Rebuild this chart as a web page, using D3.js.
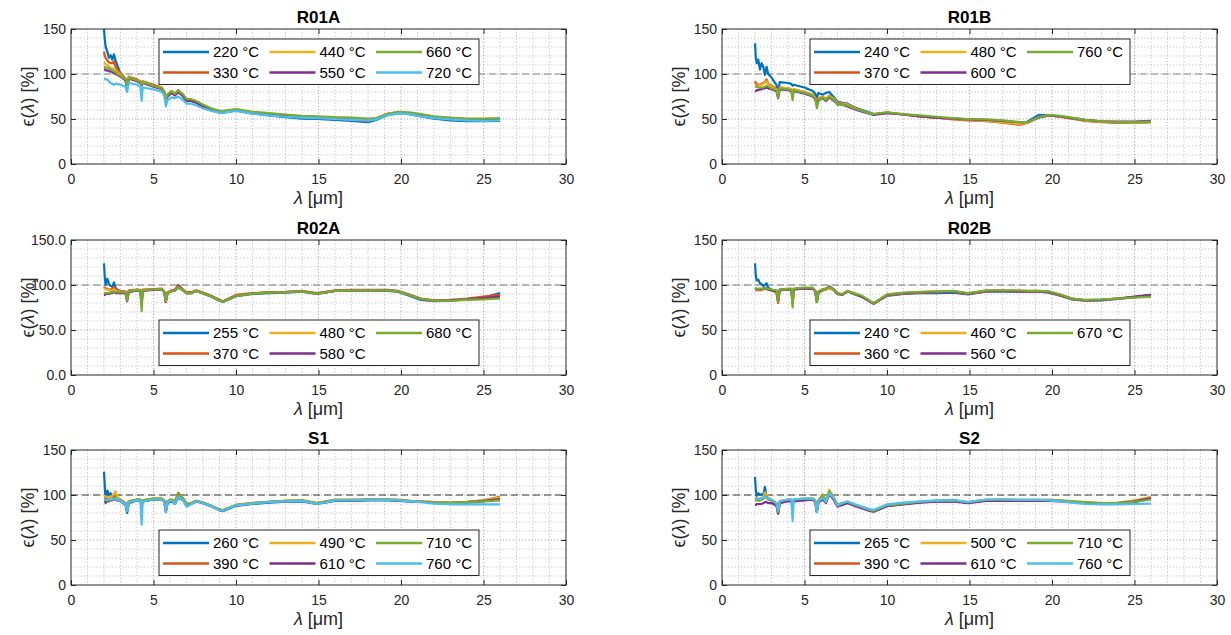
<!DOCTYPE html>
<html lang="en">
<head>
<meta charset="utf-8">
<title>Emissivity spectra</title>
<script src="https://cdn.jsdelivr.net/npm/d3@7"></script>
<style>
body { margin: 0; background: #fff; font-family: "Liberation Sans", Arial, Helvetica, sans-serif; }
svg text { fill: #262626; }
.tick text { font-size: 14px; font-family: "Liberation Sans", Arial, sans-serif; }
.tick line { stroke: #262626; }
.title { font-size: 17px; font-weight: bold; fill: #000; text-anchor: middle; }
.axlabel { font-size: 18px; text-anchor: middle; }
.legend text { font-size: 15px; fill: #000; }
.series { fill: none; stroke-width: 2.2; stroke-linejoin: round; }
</style>
</head>
<body>
<script>

// wavelength grid [µm] shared by all spectra
var lambda = [2.0, 2.05, 2.1, 2.2, 2.3, 2.4, 2.5, 2.6, 2.7, 2.8,
  3.0, 3.3, 3.4, 3.5, 4.0, 4.2, 4.28, 4.35, 5.0, 5.5,
  5.65, 5.75, 5.85, 6.1, 6.3, 6.5, 6.8, 7.0, 7.3, 7.6,
  8.0, 8.5, 9.0, 9.2, 10, 11, 12, 13, 14, 14.9,
  16, 17, 18, 18.5, 19.2, 19.8, 20.5, 21.2, 22, 23, 24, 25, 26];

var xTicks = [0, 5, 10, 15, 20, 25, 30];
var yTicks = [0, 50, 100, 150];

// R01A
var r01aLabels = ["220 °C", "330 °C", "440 °C", "550 °C", "660 °C", "720 °C"];
var r01aValues = [
  [150,138,130,125,118,121,116,122,115,110, 100,93,85,95,93,91,88,91,87,84, 80,71,76,80,77,81,76,70,70,68, 64,60,57,57,59.5,56,54,52,50.5,50, 49,48,46.5,49,54.5,56.5,55.5,53,50.5,48.5,47.5,47.5,48],
  [125,120,118,115,113,112,112,114,108,105, 101,95,86,97,94,92,89,92,88,85, 81,72,77,81,78,82,77,71,71,69, 65,61,58,58,60,57,55,53.5,52,51.5, 50.5,49.5,48,50.5,56,57.5,56.5,54,52,50,49,49,50],
  [113,112,111,110,108,107,106,106,104,102, 99,94,85,96,93,91,88,91,87,84, 80,70,76,80,77,81,76,71,71,69, 65,61,58,58,60,57,55,53.5,52,51.5, 50.5,49.5,48.5,50,55.5,57.5,56.5,54,52,50,49,49,49.5],
  [105,105,104,104,103,103,102,101,100,99, 97,93,84,95,92,90,87,90,86,83, 79,69,75,79,76,80,75,70,70,68, 64,60,57.5,57.5,59.5,57,55,53.5,52,51, 50.5,49.5,48.5,50,55,57,56,54,52,50,49,49,50],
  [108,108,107,107,106,105,104,103,102,100, 98,94,85,96,93,91,88,91,87,84, 80,71,77,81,78,82,77,72,72,70, 66,62,59,59,61,58,56.5,55,53.5,53, 52,51.5,50.5,51,55.5,58,57.5,55.5,53,51.5,50.5,50.5,51],
  [95,95,94,94,92,90,89,88,89,89, 88,86,80,90,88,86,70,85,83,80, 76,64,71,74,73,75,71,67,67,65, 62,59,57,57,59,56,54,52.5,51.5,51, 50,49,48.5,49.5,54,56,55.5,53,51,49.5,48.5,48,48.5]
];

// R01B
var r01bLabels = ["240 °C", "370 °C", "480 °C", "600 °C", "760 °C"];
var r01bValues = [
  [134,118,112,116,105,112,108,99,108,100, 96,88,80,91,90,89,87,88,85,81, 78,74,79,77,79,80,74,69,68,67, 63,60,57,55.5,57,55,53,51.5,50.5,49.5, 48.5,47.5,45,47,54.5,54,52.5,51,49,47,46,46,46.5],
  [92,90,89,88,88,89,90,91,94,89, 87,84,75,85,84,83,78,83,80,77, 74,67,73,75,72,76,72,67,67,66, 63,59,56,55,57,55,53,51.5,49.5,48.5, 47.5,46,43.5,45.5,52,54,52.5,50.5,48,46.5,46,46,46.5],
  [88,88,87,87,87,88,89,90,92,88, 86,83,75,85,84,83,77,83,80,77, 74,66,72,75,72,76,72,67,67,66, 62,59,56,55,57,55,53,51.5,50,49, 48,46.5,44.5,46,52,54,53,51,48.5,47,46.5,46,46.5],
  [81,81,82,82,83,83,84,84,85,84, 83,81,73,83,82,81,76,81,78,75, 72,65,71,73,70,74,70,66,66,64, 61,58,55.5,54.5,56.5,55,53,51.5,50.5,49.5, 49,48,46.5,46.5,51.5,54,53,51,49,47.5,47,47,48],
  [86,86,86,85,85,85,85,86,87,86, 84,82,74,84,83,82,71,82,79,76, 73,62,70,74,71,75,71,66,66,65, 62,59,56,55.5,57.5,55.5,54,52.5,51,50, 49.5,48.5,46.5,46.5,52,54.5,53.5,51.5,49,47.5,46.5,46.5,47]
];

// R02A
var r02aLabels = ["255 °C", "370 °C", "480 °C", "580 °C", "680 °C"];
var r02aValues = [
  [124,108,100,107,101,99,98,103,97,95, 93,92,84,93,94.5,94,82,94,95,95.5, 92,83,91,93,94,97,94,91,91,93.5, 90.5,87,82.5,81,87.5,90,91,91.5,92.5,90, 93.5,93.5,93.5,93.5,93.5,92.5,88,83.5,82,82.5,84,86,91],
  [98,97,96,96,95,95,96,98,96,94, 93,93,84,94,95,94.5,80,95,95.5,96, 93,82,92,94,95,100,95,92,92,94, 91.5,88,83.5,82,89,91,92,92.5,93.5,91, 94,94.5,94.5,94.5,94.5,93.5,89.5,85,83,83.5,85,87,89],
  [96,96,95,95,94,94,94,95,94,93, 92.5,92,83,93,94.5,94,79,94,95,95.5, 92,82,91,93,94,98,94,91,91,93.5, 91,87.5,83,81.5,88,90.5,91.5,92,93,90.5, 93.5,94,94,94,94,93,89,84.5,82.5,83,84,85,86],
  [89,89,90,90,90,91,91,92,91,91, 91,91,82,92,94,93.5,80,93.5,94.5,95, 92,81,91,93,94,99,94,91,91,93.5, 91,87.5,83,81.5,88,90.5,91.5,92,93,90.5, 93.5,94,94,94,94,93,89,84.5,82.5,83,84,85.5,87],
  [91,91,91,91,91,92,92,93,92,92, 92,92,83,93,94.5,94,71,94,95,95.5, 92,82,91,93,94,98,94,91,91,93.5, 91,87.5,83,81.5,88,90.5,91.5,92,93,90.5, 93.5,94,94,94,94,93,89,84.5,82.5,82.5,83.5,84,85]
];

// R02B
var r02bLabels = ["240 °C", "360 °C", "460 °C", "560 °C", "670 °C"];
var r02bValues = [
  [124,110,105,106,102,101,99,100,102,97, 95,93,82,95,95.5,95,84,95.5,96,96, 93,82,92,94,95,97,94,90,89,93, 90,86.5,81,79,88,90,91,91,91.5,89.5, 92.5,93,92.5,92.5,92.5,91.5,88,84,82.5,83,84.5,86.5,89],
  [97,96,95,95,95,95,96,97,96,95, 94,92,80,94,95,95,80,95,96,96, 93,81,92,94,95,97,94,90,89,93, 90,87,81,79,88.5,90.5,91.5,92,92.5,90, 93,93.5,93,93,93,92,88.5,84.5,83,83.5,85,86.5,88],
  [94,94,94,94,94,94,95,96,95,95, 94,93,81,94,95.5,95,78,95.5,96.5,96.5, 93,81,92,94.5,95,97,94,90.5,89.5,93, 90.5,87,81.5,79.5,89,91,92,92.5,93,90.5, 93.5,94,93.5,93.5,93.5,92.5,89,85,83,83.5,85,86.5,87.5],
  [95,95,95,95,95,95,96,96,96,95, 94,93,82,94.5,95.5,95,80,95.5,96,96, 93,82,92,95,96,98.5,95,90.5,89.5,93, 90.5,87,81.5,79.5,89,91,92,92.5,93,90.5, 93.5,93.5,93,93,93,92.5,89,85,83,83.5,85,87,89],
  [96,96,96,96,96,96,96,97,96,96, 95,94,82,95,96,96,75,96,97,97, 94,81,93,95,96,97.5,95,91,90,93.5, 91,88,82,80,89.5,91.5,92.5,93,93.5,91, 94,94,94,93.5,93.5,93,89.5,85,83.5,84,85,86,87]
];

// S1
var s1Labels = ["260 °C", "390 °C", "490 °C", "610 °C", "710 °C", "760 °C"];
var s1Values = [
  [126,109,91,105,100,102,99,98,99,96, 93,89,80,91,94,94,88,93,95,95, 93,81,91,93,90,97,94,88,90,93, 91,87.5,83,82,88,90,91.5,92.5,93,90, 93.5,93.5,94,94,94,93.5,93,92.5,91.5,91,91.5,93,96],
  [98,98,97,97,97,98,98,101,100,97, 95,91,83,93,95,95,89,94,96,96, 94,83,93,95,93,102.5,96,90,91,93.5, 91.5,88,84,83,89,91,92.5,93.5,94,91, 94.5,94.5,95,95,95,94.5,93.5,93,92,91.5,92.5,94,98],
  [99,99,98,98,98,98,99,101,104,98, 95,91,83,93,95,95,89,94,96,96, 94,83,93,95,92,101,96,90,91,93.5, 91.5,88,84,83,89,91,92.5,93.5,94,91, 94.5,94.5,95,95,95,94.5,93.5,93,92,91.5,92.5,94,97],
  [93,93,93,93,93,94,94,95,95,94, 93,90,82,92,94,94,88,93,95,95, 93,82,92,94,92,100,95,89,90.5,93, 91,87.5,83.5,82.5,88.5,90.5,92,93,93.5,90.5, 94,94,94.5,94.5,94.5,94,93,92.5,91.5,91,92,93.5,95.5],
  [94,94,94,94,94,95,95,97,97,95, 94,91,83,93,95,95,89,94,96,96, 94,83,93,95,93,101,96,90,91,93.5, 91.5,88,84,83,89,91,92.5,93.5,94,91, 94.5,94.5,95,95,95,94.5,93.5,92.5,91.5,91,92,93,94],
  [95,95,95,95,95,95,95,96,96,95, 93,90,82,92,94,94,67,93,95,95, 93,81,92,94,90,98,94,87,90,93, 91,87.5,83.5,82.5,88.5,90.5,92,93,93.5,90, 94,94,94.5,94.5,94.5,94,93,92,90.5,89.5,89.5,89.5,89.5]
];

// S2
var s2Labels = ["265 °C", "390 °C", "500 °C", "610 °C", "710 °C", "760 °C"];
var s2Values = [
  [120,105,99,102,100,101,99,109,98,96, 94,90,80,92,94,94,90,94,95,95.5, 93,82,93,96,92,104,95,88,90,92, 89,86,82.5,82,88,90,92,93,93.5,91.5, 94,94.5,94,94,94,94,93.5,92.5,91.5,90.5,90.5,92,96],
  [95,95,95,94,94,95,96,98,97,95, 94,90,80,92,94,94,90,94,95,95.5, 93,82,93,98,92,104,95,88,90,92, 89,86,82.5,82,88,90,92,93,93.5,91.5, 94,94.5,94,94,94,94,93.5,92.5,91.5,90.5,91,93,97],
  [97,97,96,96,96,97,98,103,100,97, 95,91,81,93,95,95,91,95,96,96, 94,83,94,101,93,106,96,89,91,92.5, 89.5,86.5,83,82.5,88.5,90.5,92.5,93.5,94,92, 94.5,95,94.5,94.5,94.5,94.5,94,93,92,91,91.5,94,98],
  [89,89,90,90,90,90,91,92,92,91, 91,88,79,91,93,93,89,93,94,95, 92,81,92,95,91,101,94,87,89,91, 88,85,82,81.5,87.5,89.5,91.5,92.5,93,91, 93.5,93.5,93.5,93.5,93.5,93.5,93,92,91,90.5,91,93,96.5],
  [94,94,94,94,94,95,96,99,98,96, 94,91,81,93,95,95,91,95,96,96, 94,83,94,100,93,104,96,89,91,92.5, 89.5,86.5,83,82.5,88.5,90.5,92.5,93.5,94,92, 94.5,95,94.5,94.5,94.5,94.5,94,93,92,91,91,92.5,95],
  [96,96,96,96,96,96,97,98,97,96, 95,91,82,93,95,95,71,95,96,96, 94,81,93,97,92,102,96,88,91,93, 90,87,84,83.5,89.5,91.5,93,94,94.5,92, 95,95,94.5,94.5,94.5,94,93,91.5,90,89.5,89.5,90,90.5]
];

// MATLAB default line colours
var colors = ["#0072BD", "#D95319", "#EDB120", "#7E2F8E", "#77AC30", "#4DBEEE"];

var panels = [
  { title: "R01A", labels: r01aLabels, values: r01aValues, col: 0, row: 0, legendTop: true,  fmt: "d",   refColor: "#8a8a8a" },
  { title: "R01B", labels: r01bLabels, values: r01bValues, col: 1, row: 0, legendTop: true,  fmt: "d",   refColor: "#8a8a8a" },
  { title: "R02A", labels: r02aLabels, values: r02aValues, col: 0, row: 1, legendTop: false, fmt: ".1f", refColor: "#7a7a7a" },
  { title: "R02B", labels: r02bLabels, values: r02bValues, col: 1, row: 1, legendTop: false, fmt: "d",   refColor: "#7a7a7a" },
  { title: "S1",   labels: s1Labels,   values: s1Values,   col: 0, row: 2, legendTop: false, fmt: "d",   refColor: "#3a3a3a" },
  { title: "S2",   labels: s2Labels,   values: s2Values,   col: 1, row: 2, legendTop: false, fmt: "d",   refColor: "#3a3a3a" }
];

var W = 1231, H = 635;
var colLeft = [71, 722],
    rowTop = [29, 240, 450],
    pw = 495, ph = 135;

var svg = d3.select("body").append("svg")
    .attr("width", W)
    .attr("height", H);

var x = d3.scaleLinear().domain([0, 30]).range([0, pw]);
var y = d3.scaleLinear().domain([0, 150]).range([ph, 0]);

var line = d3.line()
    .x(function(d) { return x(d[0]); })
    .y(function(d) { return y(d[1]); });

panels.forEach(function(p, pi) {

  var g = svg.append("g")
      .attr("transform", "translate(" + colLeft[p.col] + "," + rowTop[p.row] + ")");

  g.append("rect").attr("width", pw).attr("height", ph).attr("fill", "#fff");

  // minor grid (dotted)
  g.selectAll(".gx").data(d3.range(1, 30)).enter().append("line")
      .attr("x1", function(d) { return x(d); }).attr("x2", function(d) { return x(d); })
      .attr("y1", 0).attr("y2", ph)
      .attr("stroke", function(d) { return d % 5 ? "#c4c4c4" : "#a8a8a8"; })
      .attr("stroke-width", 1)
      .attr("stroke-dasharray", "1.2,2");
  g.selectAll(".gy").data(d3.range(10, 150, 10)).enter().append("line")
      .attr("y1", function(d) { return y(d); }).attr("y2", function(d) { return y(d); })
      .attr("x1", 0).attr("x2", pw)
      .attr("stroke", function(d) { return d % 50 ? "#c4c4c4" : "#a8a8a8"; })
      .attr("stroke-width", 1)
      .attr("stroke-dasharray", "1.2,2");

  // 100 % reference
  g.append("line")
      .attr("x1", 0).attr("x2", pw)
      .attr("y1", y(100)).attr("y2", y(100))
      .attr("stroke", p.refColor)
      .attr("stroke-width", 1.2)
      .attr("stroke-dasharray", "7,4");

  // spectra
  var clipId = "clip" + pi;
  g.append("clipPath").attr("id", clipId)
    .append("rect").attr("width", pw).attr("height", ph);

  p.values.forEach(function(v, i) {
    var pts = lambda.map(function(l, k) { return [l, v[k]]; })
        .filter(function(d) { return d[1] != null; });
    g.append("path")
        .attr("class", "series")
        .attr("clip-path", "url(#" + clipId + ")")
        .attr("stroke", colors[i])
        .attr("d", line(pts));
  });

  // axes, ticks inward
  var fmt = d3.format(p.fmt);
  var xa = g.append("g").attr("transform", "translate(0," + ph + ")")
      .call(d3.axisBottom(x).tickValues(xTicks).tickSize(-5).tickPadding(10));
  var ya = g.append("g")
      .call(d3.axisLeft(y).tickValues(yTicks).tickSize(-5).tickPadding(5).tickFormat(fmt));
  var xt = g.append("g")
      .call(d3.axisTop(x).tickValues(xTicks).tickSize(-5).tickFormat(""));
  var yr = g.append("g").attr("transform", "translate(" + pw + ",0)")
      .call(d3.axisRight(y).tickValues(yTicks).tickSize(-5).tickFormat(""));
  [xa, ya, xt, yr].forEach(function(a) { a.select(".domain").remove(); a.selectAll("text").attr("fill", "#262626"); });

  g.append("rect")
      .attr("width", pw).attr("height", ph)
      .attr("fill", "none")
      .attr("stroke", "#262626")
      .attr("stroke-width", 1);

  // title and labels
  g.append("text").attr("class", "title")
      .attr("x", pw / 2).attr("y", -6)
      .text(p.title);

  var xl = g.append("text").attr("class", "axlabel")
      .attr("x", pw / 2).attr("y", ph + 40);
  xl.append("tspan").attr("font-style", "italic").text("λ");
  xl.append("tspan").text(" [μm]");

  var yl = g.append("text").attr("class", "axlabel")
      .attr("transform", "translate(-37," + (ph / 2) + ") rotate(-90)");
  yl.append("tspan").text("ϵ(");
  yl.append("tspan").attr("font-style", "italic").text("λ");
  yl.append("tspan").text(") [%]");

  // legend, 3 columns filled column by column
  var ly = p.legendTop ? 10 : 80;
  var lg = g.append("g").attr("class", "legend")
      .attr("transform", "translate(88," + ly + ")");
  lg.append("rect")
      .attr("width", 320).attr("height", 45.5)
      .attr("fill", "#fff")
      .attr("stroke", "#262626")
      .attr("stroke-width", 1);
  p.labels.forEach(function(lab, i) {
    var cx = Math.floor(i / 2) * 106.5,
        cy = i % 2 ? 33.5 : 13;
    lg.append("line")
        .attr("x1", cx + 4).attr("x2", cx + 50)
        .attr("y1", cy).attr("y2", cy)
        .attr("stroke", colors[i])
        .attr("stroke-width", 2.5);
    lg.append("text")
        .attr("x", cx + 54).attr("y", cy)
        .attr("dy", "0.35em")
        .text(lab);
  });
});

</script>
</body>
</html>
